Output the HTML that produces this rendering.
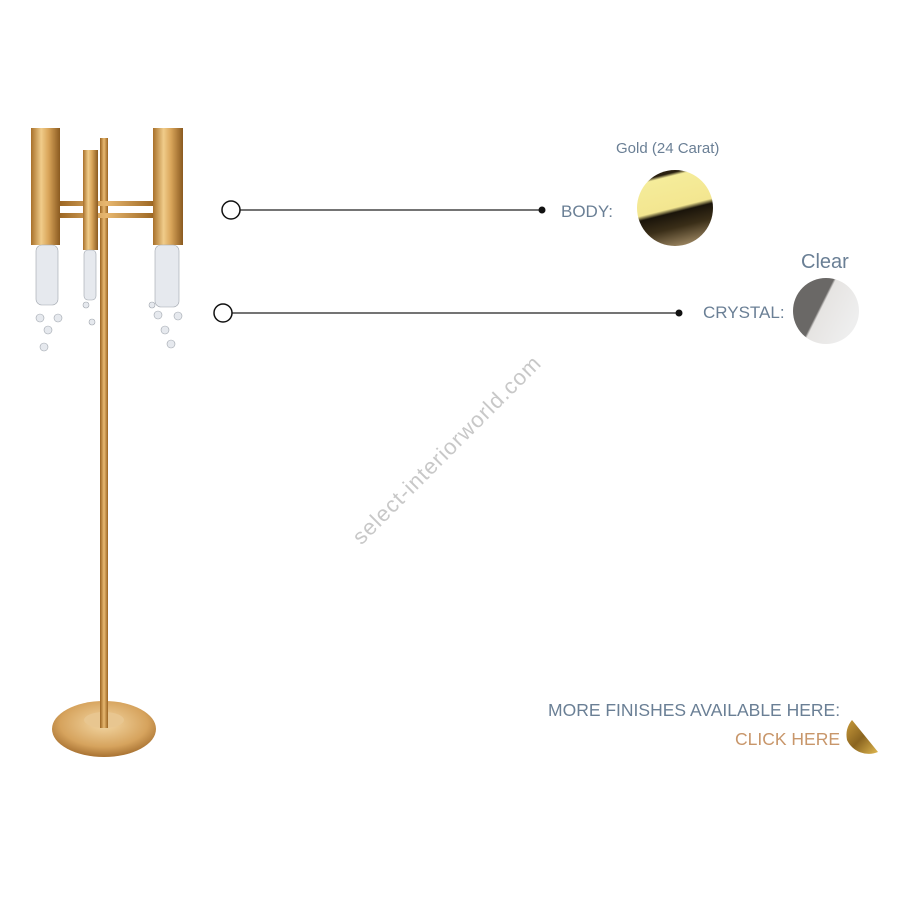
<!DOCTYPE html>
<html><head><style>body{margin:0;background:#fff}svg{display:block}</style></head>
<body>
<svg width="900" height="900" viewBox="0 0 900 900" xmlns="http://www.w3.org/2000/svg" font-family="Liberation Sans, sans-serif">
<defs>
<linearGradient id="g" x1="0" x2="1"><stop offset="0" stop-color="#a8702a"/><stop offset=".35" stop-color="#f0cc8a"/><stop offset=".6" stop-color="#d9a55a"/><stop offset="1" stop-color="#8a5a20"/></linearGradient>
<linearGradient id="p" x1="0" x2="1"><stop offset="0" stop-color="#9a6420"/><stop offset=".5" stop-color="#e8b870"/><stop offset="1" stop-color="#9a6420"/></linearGradient>
<radialGradient id="b" cx=".5" cy=".4" r=".6"><stop offset="0" stop-color="#f3d7a4"/><stop offset=".7" stop-color="#d6a35d"/><stop offset="1" stop-color="#a87232"/></radialGradient>
<linearGradient id="gold" x1="0.35" y1="0" x2="0.6" y2="1"><stop offset="0" stop-color="#2a2010"/><stop offset=".06" stop-color="#2a2010"/><stop offset=".1" stop-color="#f5ec9a"/><stop offset=".5" stop-color="#f3e690"/><stop offset=".56" stop-color="#1a140a"/><stop offset=".75" stop-color="#3a2e18"/><stop offset="1" stop-color="#9a8460"/></linearGradient>
<linearGradient id="cg" x1="0" y1="0" x2="1" y2="0.5"><stop offset="0" stop-color="#6a6866"/><stop offset=".5" stop-color="#6a6866"/><stop offset=".53" stop-color="#e6e4e2"/><stop offset="1" stop-color="#eeeeee"/></linearGradient>
<linearGradient id="ch" x1="0" y1="0" x2="1" y2="1"><stop offset="0" stop-color="#c89a3a"/><stop offset=".5" stop-color="#8a6420"/><stop offset="1" stop-color="#e0b850"/></linearGradient>
</defs>
<ellipse cx="104" cy="729" rx="52" ry="28" fill="url(#b)"/>
<ellipse cx="104" cy="720" rx="20" ry="8" fill="#e8c690"/>
<rect x="100" y="138" width="8" height="590" fill="url(#p)"/>
<rect x="58" y="201" width="97" height="5" fill="url(#p)"/>
<rect x="58" y="213" width="97" height="5" fill="url(#p)"/>
<rect x="31" y="128" width="29" height="117" fill="url(#g)"/>
<rect x="83" y="150" width="15" height="100" fill="url(#g)"/>
<rect x="153" y="128" width="30" height="117" fill="url(#g)"/>
<g fill="#e6e9ee" stroke="#a0a6ae" stroke-width=".6">
<rect x="36" y="245" width="22" height="60" rx="6"/>
<rect x="84" y="250" width="12" height="50" rx="4"/>
<rect x="155" y="245" width="24" height="62" rx="6"/>
<circle cx="40" cy="318" r="4"/><circle cx="48" cy="330" r="4"/><circle cx="44" cy="347" r="4"/><circle cx="58" cy="318" r="4"/>
<circle cx="86" cy="305" r="3"/><circle cx="92" cy="322" r="3"/>
<circle cx="158" cy="315" r="4"/><circle cx="165" cy="330" r="4"/><circle cx="171" cy="344" r="4"/><circle cx="178" cy="316" r="4"/><circle cx="152" cy="305" r="3"/>
</g>
<line x1="240" y1="210" x2="542" y2="210" stroke="#222" stroke-width="1.3"/>
<circle cx="231" cy="210" r="9" fill="#fff" stroke="#111" stroke-width="1.5"/>
<circle cx="542" cy="210" r="3.5" fill="#111"/>
<line x1="232" y1="313" x2="679" y2="313" stroke="#222" stroke-width="1.3"/>
<circle cx="223" cy="313" r="9" fill="#fff" stroke="#111" stroke-width="1.5"/>
<circle cx="679" cy="313" r="3.5" fill="#111"/>
<g fill="#6a7f95" font-size="17">
<text x="561" y="217">BODY:</text>
<text x="703" y="318">CRYSTAL:</text>
<text x="616" y="153" font-size="15">Gold (24 Carat)</text>
<text x="801" y="268" font-size="20">Clear</text>
<text x="548" y="716" font-size="17.5">MORE FINISHES AVAILABLE HERE:</text>
<text x="735" y="745" font-size="17.5" fill="#c8966a">CLICK HERE</text>
</g>
<circle cx="675" cy="208" r="38" fill="url(#gold)"/>
<circle cx="826" cy="311" r="33" fill="url(#cg)"/>
<path d="M852 720 L878 752 A24 24 0 0 1 847 740 A24 24 0 0 1 852 720Z" fill="url(#ch)"/>
<text x="452" y="455" font-size="22" fill="#c8c8c8" text-anchor="middle" transform="rotate(-45 452 455)" letter-spacing="1">select-interiorworld.com</text>
</svg>
</body></html>
